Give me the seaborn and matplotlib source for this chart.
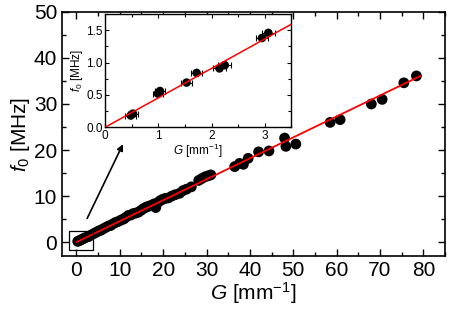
import numpy as np
import pandas as pd
import matplotlib
matplotlib.use("Agg")
import matplotlib.pyplot as plt
from matplotlib.patches import Rectangle
from matplotlib.ticker import MultipleLocator, FormatStrFormatter
import seaborn as sns

# main data
g_main = [0.3, 0.6, 1.0, 1.4, 1.8, 2.3, 2.8, 3.3, 3.9, 4.5, 5.1, 5.7, 6.2, 6.8,
          7.4, 7.9, 8.5, 9.1, 9.7, 10.3, 10.9, 11.4, 12.0, 12.6, 13.1, 13.7,
          14.3, 14.9, 15.5, 16.1, 16.7, 17.3, 17.9, 18.3, 18.8, 19.3, 19.9,
          20.5, 21.2, 22.0, 22.8, 23.8, 24.6, 25.4, 26.5, 28.2, 28.9, 29.7,
          30.4, 31.0, 36.5, 37.6, 38.5, 39.6, 42.0, 44.4, 48.0, 48.3, 50.6,
          58.5, 60.8, 68.0, 70.5, 75.5, 78.4]
f_main = [0.15, 0.3, 0.45, 0.65, 0.85, 1.05, 1.2, 1.5, 1.8, 2.1, 2.4, 2.6, 2.9, 3.2,
          3.5, 3.6, 4.0, 4.3, 4.5, 4.8, 5.0, 5.4, 5.8, 5.9, 6.2, 6.3,
          6.5, 6.9, 7.3, 7.6, 7.8, 8.0, 8.3, 7.5, 8.6, 9.0, 9.3,
          9.5, 9.6, 10.0, 10.3, 10.6, 11.2, 11.5, 12.0, 13.4, 13.8, 14.2,
          14.4, 14.6, 16.4, 17.1, 16.9, 18.2, 19.6, 19.8, 22.6, 20.8, 21.3,
          26.0, 26.6, 30.0, 31.0, 34.6, 36.1]

# inset data
g_ins = [0.48, 0.52, 0.99, 1.03, 1.53, 1.72, 2.15, 2.25, 2.95, 3.07]
f_ins = [0.18, 0.21, 0.52, 0.56, 0.69, 0.84, 0.91, 0.96, 1.38, 1.46]
g_err = [0.1, 0.1, 0.1, 0.1, 0.1, 0.1, 0.12, 0.12, 0.12, 0.12]

slope = 0.455
fit_main = pd.DataFrame({"G": [0, 79.5], "f": [0, slope * 79.5]})
fit_ins = pd.DataFrame({"G": [0, 3.5], "f": [0, slope * 3.5]})

sns.set_theme(style="ticks")
plt.rcParams["font.family"] = ["Liberation Sans", "DejaVu Sans"]
plt.rcParams["mathtext.fontset"] = "custom"
plt.rcParams["mathtext.rm"] = "Liberation Sans"
plt.rcParams["mathtext.it"] = "Liberation Sans:italic"
for k in ["text.color", "axes.labelcolor", "xtick.color", "ytick.color", "axes.edgecolor"]:
    plt.rcParams[k] = "black"

fig = plt.figure(figsize=(4.5, 3.14), dpi=100)
ax = fig.add_axes([0.138, 0.185, 0.851, 0.777])

sns.scatterplot(x=g_main, y=f_main, ax=ax, color="black", s=60, edgecolor="none", zorder=3)
sns.lineplot(data=fit_main, x="G", y="f", ax=ax, color="red", lw=1.3, zorder=4)

ax.set_xlim(-3.3, 85)
ax.set_ylim(-3, 50)
ax.xaxis.set_major_locator(MultipleLocator(10))
ax.xaxis.set_minor_locator(MultipleLocator(5))
ax.yaxis.set_major_locator(MultipleLocator(10))
ax.yaxis.set_minor_locator(MultipleLocator(5))
ax.tick_params(which="both", direction="in", top=True, right=True, labelsize=15, width=1)
ax.tick_params(which="major", length=5)
ax.tick_params(which="minor", length=3)
for s in ax.spines.values():
    s.set_linewidth(1.2)
ax.set_xlabel(r"$\mathit{G}$ [mm$^{-1}$]", fontsize=15, labelpad=0)
ax.set_ylabel(r"$\mathit{f_0}$ [MHz]", fontsize=15, labelpad=1)

ax.add_patch(Rectangle((-1.7, -1.7), 5.5, 4.15, fill=False, edgecolor="black", lw=0.9, zorder=5))
ax.annotate("", xy=(11.0, 21.8), xytext=(2.2, 4.6),
            arrowprops=dict(arrowstyle="-|>", color="black", lw=1.2, mutation_scale=9))

ins = fig.add_axes([0.234, 0.595, 0.413, 0.36])
ins.errorbar(g_ins, f_ins, xerr=g_err, fmt="none", ecolor="black", elinewidth=0.8, capsize=2, capthick=0.8, zorder=2)
sns.scatterplot(x=g_ins, y=f_ins, ax=ins, color="black", s=38, edgecolor="none", zorder=3)
sns.lineplot(data=fit_ins, x="G", y="f", ax=ins, color="red", lw=1.1, zorder=4)
ins.set_xlim(0, 3.5)
ins.set_ylim(0, 1.75)
ins.xaxis.set_major_locator(MultipleLocator(1))
ins.xaxis.set_minor_locator(MultipleLocator(0.5))
ins.yaxis.set_major_locator(MultipleLocator(0.5))
ins.yaxis.set_minor_locator(MultipleLocator(0.25))
ins.yaxis.set_major_formatter(FormatStrFormatter("%.1f"))
ins.tick_params(which="both", direction="in", top=True, right=True, labelsize=8.5, width=0.8, pad=2)
ins.tick_params(which="major", length=3)
ins.tick_params(which="minor", length=2)
for s in ins.spines.values():
    s.set_linewidth(1.0)
ins.set_xlabel(r"$\mathit{G}$ [mm$^{-1}$]", fontsize=8.5, labelpad=0)
ins.set_ylabel(r"$\mathit{f_0}$ [MHz]", fontsize=8.5, labelpad=1)

fig.savefig("out.png", dpi=100)
